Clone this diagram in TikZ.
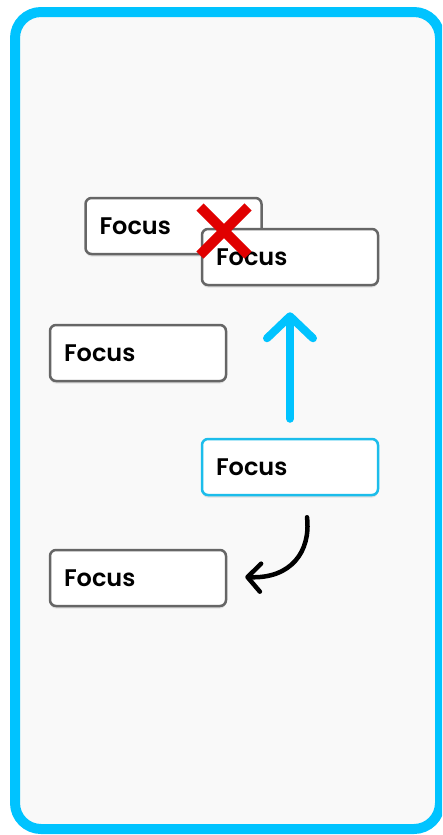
\documentclass[tikz,border=0pt]{standalone}
\usepackage{fontspec}
\setmainfont{Poppins}[BoldFont={Poppins SemiBold}]
\usetikzlibrary{arrows.meta,shadows}
\definecolor{frameblue}{HTML}{00C3FF}
\definecolor{panelgray}{HTML}{F9F9F9}
\definecolor{boxgray}{HTML}{666666}
\definecolor{focusblue}{HTML}{1CBDEB}
\definecolor{crossred}{HTML}{E00000}
\tikzset{
  item/.style={draw=boxgray, line width=2.5pt, fill=white, rounded corners=6pt,
    minimum width=176pt, minimum height=56pt, text width=148pt, inner xsep=14pt,
    align=left, font=\fontsize{24}{28}\selectfont\bfseries,
    drop shadow={opacity=0.2, shadow xshift=0pt, shadow yshift=-2.5pt}},
  focused/.style={item, draw=focusblue},
  moveup/.style={draw=frameblue, line width=8pt, line cap=round,
    -{Straight Barb[length=22pt, width=46pt, round]}},
  moveback/.style={draw=black, line width=4.5pt, line cap=round,
    -{Straight Barb[length=13pt, width=28pt, round]}},
  cross/.style={draw=crossred, line width=10pt}
}
\begin{document}
\begin{tikzpicture}[x=1pt,y=-1pt]
  \path[use as bounding box, clip] (0,0) rectangle (442,835);
  \draw[frameblue, fill=panelgray, line width=10pt, rounded corners=26pt]
    (15,12) rectangle (440,829);
  \draw
    (173.5,226) node[item] (a){Focus}
    (290,257) node[item] (b){Focus}
    (138,353) node[item] (c){Focus}
    (290,467) node[focused] (d){Focus}
    (138,578) node[item] (e){Focus};
  \coordinate (xc) at (224,231);
  \draw[cross] (xc) +(-24,-24) -- +(24,24) (xc) +(24,-24) -- +(-24,24);
  \coordinate (turn) at ([xshift=17pt,yshift=-21pt]d.south);
  \coordinate (land) at ([xshift=18pt,yshift=1pt]e.east);
  \begin{scope}
    \draw[moveup, shorten <=19pt, shorten >=26pt] (d.north) to (b.south);
    \draw[moveback] (turn) .. controls +(4,34) and +(46,2) .. (land);
  \end{scope}
\end{tikzpicture}
\end{document}
